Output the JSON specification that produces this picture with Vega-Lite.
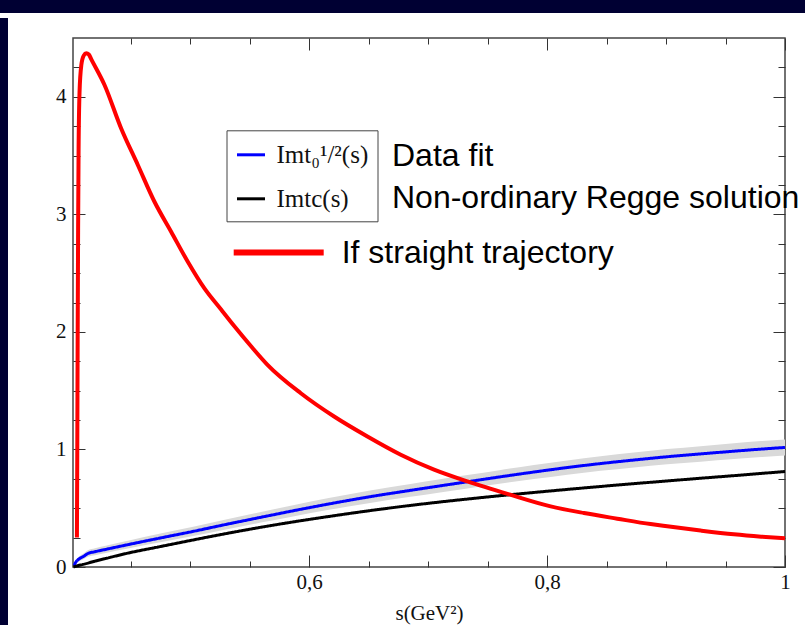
{
  "$schema": "https://vega.github.io/schema/vega-lite/v6.json",
  "background": "white",
  "padding": 0,
  "config": {
    "view": {"stroke": "#444444", "strokeWidth": 1.5},
    "axis": {
      "labelFont": "Liberation Serif", "labelFontSize": 21, "labelColor": "#111111",
      "tickColor": "#333333", "tickWidth": 1, "domain": false, "grid": false,
      "labelFlush": false, "labelOverlap": false, "labelBound": false,
      "titleFont": "Liberation Serif", "titleFontSize": 21, "titleFontWeight": "normal", "titleColor": "#111111"
    }
  },
  "datasets": {
    "band": [
      {"s": 0.4025, "lo": 0.0, "hi": 0.02},
      {"s": 0.4035, "lo": 0.02, "hi": 0.05},
      {"s": 0.405, "lo": 0.037, "hi": 0.073},
      {"s": 0.407, "lo": 0.052, "hi": 0.092},
      {"s": 0.41, "lo": 0.064, "hi": 0.112},
      {"s": 0.414, "lo": 0.087, "hi": 0.143},
      {"s": 0.42, "lo": 0.1, "hi": 0.16},
      {"s": 0.43, "lo": 0.121, "hi": 0.183},
      {"s": 0.4476, "lo": 0.157, "hi": 0.223},
      {"s": 0.475, "lo": 0.21, "hi": 0.284},
      {"s": 0.5035, "lo": 0.265, "hi": 0.345},
      {"s": 0.53, "lo": 0.319, "hi": 0.405},
      {"s": 0.5595, "lo": 0.378, "hi": 0.468},
      {"s": 0.5875, "lo": 0.432, "hi": 0.528},
      {"s": 0.6154, "lo": 0.484, "hi": 0.584},
      {"s": 0.65, "lo": 0.543, "hi": 0.649},
      {"s": 0.6853, "lo": 0.597, "hi": 0.707},
      {"s": 0.71, "lo": 0.634, "hi": 0.746},
      {"s": 0.733, "lo": 0.668, "hi": 0.782},
      {"s": 0.76, "lo": 0.708, "hi": 0.824},
      {"s": 0.789, "lo": 0.748, "hi": 0.868},
      {"s": 0.817, "lo": 0.785, "hi": 0.907},
      {"s": 0.845, "lo": 0.818, "hi": 0.942},
      {"s": 0.873, "lo": 0.847, "hi": 0.973},
      {"s": 0.901, "lo": 0.873, "hi": 1.003},
      {"s": 0.929, "lo": 0.896, "hi": 1.028},
      {"s": 0.957, "lo": 0.918, "hi": 1.052},
      {"s": 0.98, "lo": 0.935, "hi": 1.071},
      {"s": 1.0, "lo": 0.949, "hi": 1.085}
    ],
    "model": [
      {"s": 0.4025, "v": 0.01, "series": "fit", "desc": "Data fit"},
      {"s": 0.4035, "v": 0.035, "series": "fit", "desc": "Data fit"},
      {"s": 0.405, "v": 0.055, "series": "fit", "desc": "Data fit"},
      {"s": 0.407, "v": 0.072, "series": "fit", "desc": "Data fit"},
      {"s": 0.41, "v": 0.088, "series": "fit", "desc": "Data fit"},
      {"s": 0.414, "v": 0.115, "series": "fit", "desc": "Data fit"},
      {"s": 0.42, "v": 0.13, "series": "fit", "desc": "Data fit"},
      {"s": 0.43, "v": 0.152, "series": "fit", "desc": "Data fit"},
      {"s": 0.4476, "v": 0.19, "series": "fit", "desc": "Data fit"},
      {"s": 0.475, "v": 0.247, "series": "fit", "desc": "Data fit"},
      {"s": 0.5035, "v": 0.305, "series": "fit", "desc": "Data fit"},
      {"s": 0.53, "v": 0.362, "series": "fit", "desc": "Data fit"},
      {"s": 0.5595, "v": 0.423, "series": "fit", "desc": "Data fit"},
      {"s": 0.5875, "v": 0.48, "series": "fit", "desc": "Data fit"},
      {"s": 0.6154, "v": 0.534, "series": "fit", "desc": "Data fit"},
      {"s": 0.65, "v": 0.596, "series": "fit", "desc": "Data fit"},
      {"s": 0.6853, "v": 0.652, "series": "fit", "desc": "Data fit"},
      {"s": 0.71, "v": 0.69, "series": "fit", "desc": "Data fit"},
      {"s": 0.733, "v": 0.725, "series": "fit", "desc": "Data fit"},
      {"s": 0.76, "v": 0.766, "series": "fit", "desc": "Data fit"},
      {"s": 0.789, "v": 0.808, "series": "fit", "desc": "Data fit"},
      {"s": 0.817, "v": 0.846, "series": "fit", "desc": "Data fit"},
      {"s": 0.845, "v": 0.88, "series": "fit", "desc": "Data fit"},
      {"s": 0.873, "v": 0.91, "series": "fit", "desc": "Data fit"},
      {"s": 0.901, "v": 0.938, "series": "fit", "desc": "Data fit"},
      {"s": 0.929, "v": 0.962, "series": "fit", "desc": "Data fit"},
      {"s": 0.957, "v": 0.985, "series": "fit", "desc": "Data fit"},
      {"s": 0.98, "v": 1.003, "series": "fit", "desc": "Data fit"},
      {"s": 1.0, "v": 1.017, "series": "fit", "desc": "Data fit"},
      {"s": 0.4019, "v": 0.0, "series": "nonord", "desc": "Non-ordinary Regge solution"},
      {"s": 0.405, "v": 0.01, "series": "nonord", "desc": "Non-ordinary Regge solution"},
      {"s": 0.41, "v": 0.022, "series": "nonord", "desc": "Non-ordinary Regge solution"},
      {"s": 0.42, "v": 0.05, "series": "nonord", "desc": "Non-ordinary Regge solution"},
      {"s": 0.43, "v": 0.075, "series": "nonord", "desc": "Non-ordinary Regge solution"},
      {"s": 0.4476, "v": 0.118, "series": "nonord", "desc": "Non-ordinary Regge solution"},
      {"s": 0.475, "v": 0.174, "series": "nonord", "desc": "Non-ordinary Regge solution"},
      {"s": 0.5035, "v": 0.232, "series": "nonord", "desc": "Non-ordinary Regge solution"},
      {"s": 0.53, "v": 0.284, "series": "nonord", "desc": "Non-ordinary Regge solution"},
      {"s": 0.5595, "v": 0.338, "series": "nonord", "desc": "Non-ordinary Regge solution"},
      {"s": 0.5875, "v": 0.385, "series": "nonord", "desc": "Non-ordinary Regge solution"},
      {"s": 0.6154, "v": 0.428, "series": "nonord", "desc": "Non-ordinary Regge solution"},
      {"s": 0.65, "v": 0.478, "series": "nonord", "desc": "Non-ordinary Regge solution"},
      {"s": 0.6853, "v": 0.524, "series": "nonord", "desc": "Non-ordinary Regge solution"},
      {"s": 0.71, "v": 0.553, "series": "nonord", "desc": "Non-ordinary Regge solution"},
      {"s": 0.733, "v": 0.578, "series": "nonord", "desc": "Non-ordinary Regge solution"},
      {"s": 0.76, "v": 0.606, "series": "nonord", "desc": "Non-ordinary Regge solution"},
      {"s": 0.789, "v": 0.634, "series": "nonord", "desc": "Non-ordinary Regge solution"},
      {"s": 0.817, "v": 0.66, "series": "nonord", "desc": "Non-ordinary Regge solution"},
      {"s": 0.845, "v": 0.685, "series": "nonord", "desc": "Non-ordinary Regge solution"},
      {"s": 0.873, "v": 0.709, "series": "nonord", "desc": "Non-ordinary Regge solution"},
      {"s": 0.901, "v": 0.732, "series": "nonord", "desc": "Non-ordinary Regge solution"},
      {"s": 0.929, "v": 0.755, "series": "nonord", "desc": "Non-ordinary Regge solution"},
      {"s": 0.957, "v": 0.777, "series": "nonord", "desc": "Non-ordinary Regge solution"},
      {"s": 0.98, "v": 0.796, "series": "nonord", "desc": "Non-ordinary Regge solution"},
      {"s": 1.0, "v": 0.812, "series": "nonord", "desc": "Non-ordinary Regge solution"}
    ],
    "straight": [
      {"s": 0.4048, "v": 0.25, "series": "straight"},
      {"s": 0.4051, "v": 1.0, "series": "straight"},
      {"s": 0.4054, "v": 1.9, "series": "straight"},
      {"s": 0.4058, "v": 2.88, "series": "straight"},
      {"s": 0.4062, "v": 3.56, "series": "straight"},
      {"s": 0.407, "v": 4.04, "series": "straight"},
      {"s": 0.4085, "v": 4.27, "series": "straight"},
      {"s": 0.4105, "v": 4.35, "series": "straight"},
      {"s": 0.4127, "v": 4.37, "series": "straight"},
      {"s": 0.4148, "v": 4.36, "series": "straight"},
      {"s": 0.4168, "v": 4.32, "series": "straight"},
      {"s": 0.428, "v": 4.1, "series": "straight"},
      {"s": 0.442, "v": 3.73, "series": "straight"},
      {"s": 0.456, "v": 3.42, "series": "straight"},
      {"s": 0.47, "v": 3.107, "series": "straight"},
      {"s": 0.484, "v": 2.852, "series": "straight"},
      {"s": 0.498, "v": 2.597, "series": "straight"},
      {"s": 0.512, "v": 2.37, "series": "straight"},
      {"s": 0.526, "v": 2.19, "series": "straight"},
      {"s": 0.537, "v": 2.05, "series": "straight"},
      {"s": 0.551, "v": 1.88, "series": "straight"},
      {"s": 0.565, "v": 1.72, "series": "straight"},
      {"s": 0.593, "v": 1.478, "series": "straight"},
      {"s": 0.621, "v": 1.28, "series": "straight"},
      {"s": 0.649, "v": 1.11, "series": "straight"},
      {"s": 0.677, "v": 0.955, "series": "straight"},
      {"s": 0.705, "v": 0.828, "series": "straight"},
      {"s": 0.733, "v": 0.728, "series": "straight"},
      {"s": 0.769, "v": 0.615, "series": "straight"},
      {"s": 0.803, "v": 0.516, "series": "straight"},
      {"s": 0.831, "v": 0.459, "series": "straight"},
      {"s": 0.859, "v": 0.411, "series": "straight"},
      {"s": 0.887, "v": 0.365, "series": "straight"},
      {"s": 0.901, "v": 0.346, "series": "straight"},
      {"s": 0.929, "v": 0.31, "series": "straight"},
      {"s": 0.957, "v": 0.278, "series": "straight"},
      {"s": 0.98, "v": 0.258, "series": "straight"},
      {"s": 1.0, "v": 0.244, "series": "straight"}
    ]
  },
  "concat": [
    {
      "width": 805, "height": 13,
      "view": {"fill": "#000033", "stroke": null},
      "data": {"values": []},
      "mark": "rect"
    },
    {
      "columns": 2,
      "align": "none",
      "spacing": 0,
      "concat": [
        {
          "width": 8, "height": 612,
          "view": {"fill": "#000033", "stroke": null},
          "data": {"values": []},
          "mark": "rect",
          "encoding": {
            "x": {"field": "p", "type": "quantitative", "scale": {"domain": [0, 1], "nice": false, "zero": false},
              "axis": {"orient": "top", "values": [0.5], "tickSize": 20, "tickWidth": 8, "tickCap": "butt", "tickColor": "#000033",
                "translate": 0, "labels": false, "domain": false, "title": null, "minExtent": 24, "maxExtent": 24}}
          }
        },
        {
          "width": 712, "height": 529,
          "resolve": {"axis": {"x": "independent", "y": "independent"}, "legend": {"stroke": "independent"}},
          "layer": [
            {
              "data": {"name": "band"},
              "mark": {"type": "area", "color": "#d9d9d9", "interpolate": "monotone"},
              "encoding": {
                "x": {"field": "s", "type": "quantitative",
                  "scale": {"domain": [0.4015, 1], "nice": false, "zero": false},
                  "axis": {"orient": "bottom", "title": "s(GeV²)", "titlePadding": 4,
                    "values": [0.45, 0.5, 0.55, 0.6, 0.65, 0.7, 0.75, 0.8, 0.85, 0.9, 0.95, 1],
                    "tickSize": {"condition": {"test": "datum.value == 0.6 || datum.value == 0.8 || datum.value == 1", "value": -12}, "value": -6},
                    "labelPadding": 16,
                    "labelExpr": "datum.value == 0.6 ? '0,6' : datum.value == 0.8 ? '0,8' : datum.value == 1 ? '1' : ''"}},
                "y": {"field": "lo", "type": "quantitative",
                  "scale": {"domain": [0, 4.5], "nice": false, "zero": false},
                  "axis": {"orient": "left", "title": null, "minExtent": 64, "maxExtent": 64,
                    "values": [0, 0.25, 0.5, 0.75, 1, 1.25, 1.5, 1.75, 2, 2.25, 2.5, 2.75, 3, 3.25, 3.5, 3.75, 4, 4.25],
                    "tickSize": {"condition": {"test": "datum.value % 1 == 0", "value": -12}, "value": -7},
                    "labelPadding": 19,
                    "labelExpr": "datum.value % 1 == 0 ? format(datum.value, 'd') : ''"}},
                "y2": {"field": "hi"}
              }
            },
            {
              "data": {"name": "model"},
              "mark": {"type": "line", "strokeWidth": 3, "interpolate": "monotone"},
              "encoding": {
                "x": {"field": "s", "type": "quantitative",
                  "axis": {"orient": "top", "title": null, "labels": false, "minExtent": 24, "maxExtent": 24,
                    "values": [0.45, 0.5, 0.55, 0.6, 0.65, 0.7, 0.75, 0.8, 0.85, 0.9, 0.95, 1],
                    "tickSize": {"condition": {"test": "datum.value == 0.6 || datum.value == 0.8 || datum.value == 1", "value": -12}, "value": -6}}},
                "y": {"field": "v", "type": "quantitative",
                  "axis": {"orient": "right", "title": null, "labels": false,
                    "values": [0, 0.25, 0.5, 0.75, 1, 1.25, 1.5, 1.75, 2, 2.25, 2.5, 2.75, 3, 3.25, 3.5, 3.75, 4, 4.25],
                    "tickSize": {"condition": {"test": "datum.value % 1 == 0", "value": -12}, "value": -7}}},
                "stroke": {"field": "series", "type": "nominal",
                  "scale": {"domain": ["fit", "nonord", "straight"], "range": ["#0000ff", "#000000", "#ff0000"]},
                  "legend": {"orient": "none", "legendX": 153.5, "legendY": 92.3, "values": ["fit", "nonord"], "title": null,
                    "labelExpr": "datum.value == 'fit' ? 'Imt₀¹/²(s)' : 'Imtc(s)'",
                    "labelFont": "Liberation Serif", "labelFontSize": 25, "labelColor": "#111111", "labelLimit": 600,
                    "symbolType": "stroke", "symbolSize": 784, "symbolStrokeWidth": 3,
                    "labelOffset": 10, "padding": 9, "rowPadding": 15,
                    "strokeColor": "#444444", "fillColor": "white"}},
                "strokeDash": {"field": "desc", "type": "nominal",
                  "scale": {"range": [[1, 0], [1, 0]]},
                  "legend": {"orient": "none", "legendX": 360, "legendY": 140, "title": null,
                    "symbolOpacity": 0, "symbolSize": 1, "symbolStrokeWidth": 0, "labelOffset": 0, "padding": 0,
                    "rowPadding": 9.5, "labelFont": "Liberation Sans", "labelFontSize": 32, "labelColor": "#000000", "labelLimit": 1000}}
              }
            },
            {
              "data": {"name": "straight"},
              "mark": {"type": "line", "strokeWidth": 4, "interpolate": "monotone"},
              "encoding": {
                "x": {"field": "s", "type": "quantitative", "axis": null},
                "y": {"field": "v", "type": "quantitative", "axis": null},
                "stroke": {"field": "series", "type": "nominal",
                  "legend": {"orient": "none", "legendX": 157.7, "legendY": 166.5, "values": ["straight"], "title": null,
                    "labelExpr": "'If straight trajectory'",
                    "labelFont": "Liberation Sans", "labelFontSize": 32, "labelColor": "#000000", "labelLimit": 1000,
                    "symbolType": "stroke", "symbolSize": 8100, "symbolStrokeWidth": 6,
                    "labelOffset": 15, "padding": 0}}
              }
            }
          ]
        }
      ]
    }
  ],
  "columns": 1,
  "align": "none",
  "spacing": 0
}
